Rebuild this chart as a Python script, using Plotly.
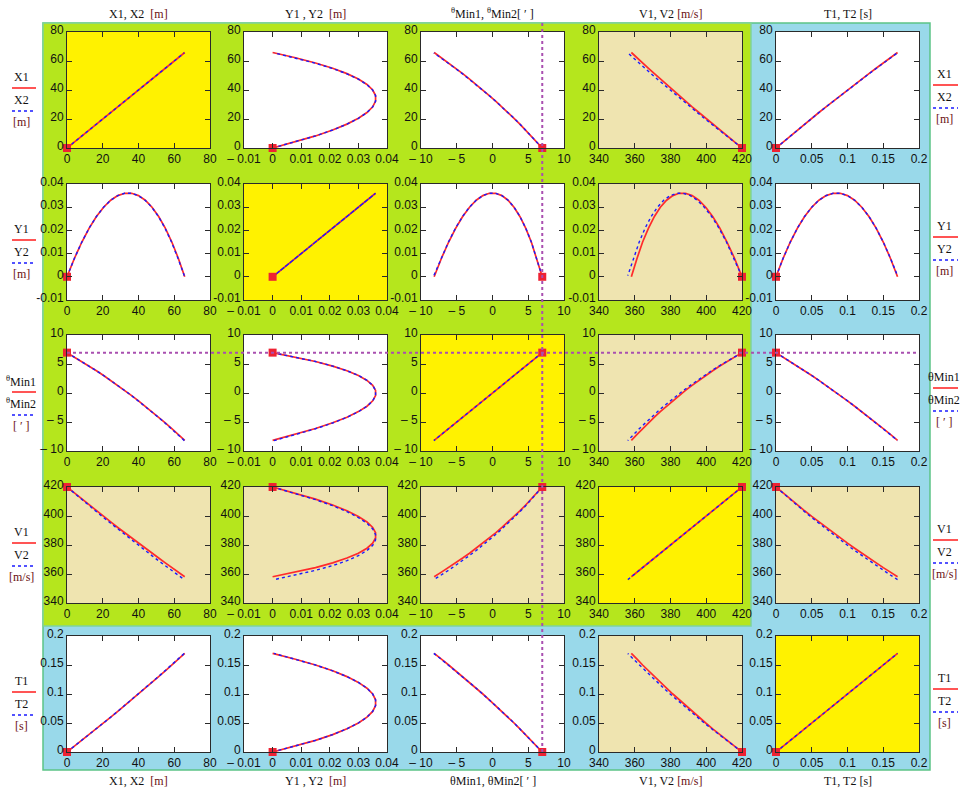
import plotly.graph_objects as go

# ---------------- data: two computed trajectories (1 = red, 2 = blue) ----------------
T1 = [0.00, 0.01, 0.02, 0.03, 0.04, 0.05, 0.06, 0.07, 0.08,
      0.09, 0.10, 0.11, 0.12, 0.13, 0.14, 0.15, 0.16, 0.17]
X1 = [0.00, 4.18, 8.32, 12.41, 16.47, 20.48, 24.46, 28.40, 32.30,
      36.17, 40.00, 43.80, 47.56, 51.28, 54.98, 58.64, 62.26, 65.86]
Y1 = [0.0000, 0.0080, 0.0150, 0.0210, 0.0260, 0.0300, 0.0330, 0.0350, 0.0360,
      0.0360, 0.0350, 0.0330, 0.0300, 0.0260, 0.0210, 0.0150, 0.0080, 0.0000]
TH1 = [6.96, 6.20, 5.43, 4.64, 3.83, 3.01, 2.17, 1.32, 0.44,
       -0.45, -1.35, -2.28, -3.21, -4.17, -5.14, -6.13, -7.14, -8.16]
V1 = [420.0, 415.8, 411.6, 407.6, 403.6, 399.7, 395.9, 392.1, 388.4,
      384.8, 381.3, 377.8, 374.3, 371.0, 367.7, 364.4, 361.3, 358.1]

T2 = [0.00, 0.01, 0.02, 0.03, 0.04, 0.05, 0.06, 0.07, 0.08,
      0.09, 0.10, 0.11, 0.12, 0.13, 0.14, 0.15, 0.16, 0.17]
X2 = [0.00, 4.18, 8.31, 12.40, 16.45, 20.46, 24.43, 28.36, 32.25,
      36.10, 39.92, 43.70, 47.44, 51.15, 54.82, 58.46, 62.07, 65.64]
Y2 = [0.0000, 0.0080, 0.0150, 0.0210, 0.0260, 0.0300, 0.0330, 0.0350, 0.0360,
      0.0360, 0.0350, 0.0330, 0.0300, 0.0260, 0.0210, 0.0150, 0.0080, 0.0005]
TH2 = [6.96, 6.20, 5.43, 4.64, 3.84, 3.02, 2.18, 1.32, 0.44,
       -0.45, -1.36, -2.28, -3.23, -4.19, -5.17, -6.16, -7.18, -8.21]
V2 = [420.0, 415.6, 411.3, 407.1, 403.0, 398.9, 395.0, 391.1, 387.2,
      383.5, 379.8, 376.2, 372.7, 369.2, 365.8, 362.5, 359.3, 356.1]

SERIES1 = [X1, Y1, TH1, V1, T1]
SERIES2 = [X2, Y2, TH2, V2, T2]

# axis scales for each quantity
AXIS_RANGE = [[0, 80], [-0.01, 0.04], [-10, 10], [340, 420], [0, 0.2]]
TICK_VALS = [[0, 20, 40, 60, 80],
             [-0.01, 0, 0.01, 0.02, 0.03, 0.04],
             [-10, -5, 0, 5, 10],
             [340, 360, 380, 400, 420],
             [0, 0.05, 0.1, 0.15, 0.2]]
X_TICK_TEXT = [["0", "20", "40", "60", "80"],
               ["\u2013 0.01", "0", "0.01", "0.02", "0.03", "0.04"],
               ["\u2013 10", "\u2013 5", "0", "5", "10"],
               ["340", "360", "380", "400", "420"],
               ["0", "0.05", "0.1", "0.15", "0.2"]]
Y_TICK_TEXT = [["0", "20", "40", "60", "80"],
               ["-0.01", "0", "0.01", "0.02", "0.03", "0.04"],
               ["\u2013 10", "\u2013 5", "0", "5", "10"],
               ["340", "360", "380", "400", "420"],
               ["0", "0.05", "0.1", "0.15", "0.2"]]

UNIT = "#6b1010"
TOP_TITLES = [
    "X1, X2  <span style='color:%s'>[m]</span>" % UNIT,
    "Y1 , Y2  <span style='color:%s'>[m]</span>" % UNIT,
    "<sup>θ</sup>Min1, <sup>θ</sup>Min2[ ′ ]",
    "V1, V2 <span style='color:%s'>[m/s]</span>" % UNIT,
    "T1, T2 [s]",
]
BOTTOM_TITLES = [
    "X1, X2  <span style='color:%s'>[m]</span>" % UNIT,
    "Y1 , Y2  <span style='color:%s'>[m]</span>" % UNIT,
    "θMin1, θMin2[ ′ ]",
    "V1, V2 <span style='color:%s'>[m/s]</span>" % UNIT,
    "T1, T2 [s]",
]
LEFT_NAMES1 = ["X1", "Y1", "<sup>θ</sup>Min1", "V1", "T1"]
LEFT_NAMES2 = ["X2", "Y2", "<sup>θ</sup>Min2", "V2", "T2"]
RIGHT_NAMES1 = ["X1", "Y1", "θMin1", "V1", "T1"]
RIGHT_NAMES2 = ["X2", "Y2", "θMin2", "V2", "T2"]
UNITS = ["[m]", "[m]", "[ ′ ]", "[m/s]", "[s]"]

# ---------------- page geometry (pixels) ----------------
W, H = 966, 790
COL_LEFT = [67, 244, 421, 599, 776]
ROW_TOP = [32, 184, 335, 487, 636]
BOX_W, BOX_H = 143, 116

GREEN = "#b5e61d"
BLUE = "#99d9ea"
TAN = "#efe4b0"
YELLOW = "#fff200"
WHITE = "#ffffff"
RED = "#ff2a2a"
DOTBLUE = "#1a1aff"
CURSOR = "#a94fb0"


def px(x):
    return x / W


def py(y):
    return 1 - y / H


fig = go.Figure()
shapes = []
annotations = []

# coloured panels behind the matrix
shapes.append(dict(type="rect", xref="paper", yref="paper", layer="below",
                   x0=px(43), x1=px(930), y0=py(770), y1=py(23),
                   fillcolor=BLUE, line=dict(color="#5cc487", width=1.5)))
shapes.append(dict(type="rect", xref="paper", yref="paper", layer="below",
                   x0=px(43), x1=px(751), y0=py(626), y1=py(23),
                   fillcolor=GREEN, line=dict(color="#7fd49a", width=1.5)))

layout_axes = {}
for r in range(5):
    for c in range(5):
        n = r * 5 + c + 1
        xa = "xaxis" if n == 1 else "xaxis%d" % n
        ya = "yaxis" if n == 1 else "yaxis%d" % n
        xr = "x" if n == 1 else "x%d" % n
        yr = "y" if n == 1 else "y%d" % n
        x0, x1 = COL_LEFT[c], COL_LEFT[c] + BOX_W
        y0, y1 = ROW_TOP[r], ROW_TOP[r] + BOX_H

        if r == c:
            bg = YELLOW
        elif r == 3 or c == 3:
            bg = TAN
        else:
            bg = WHITE
        shapes.append(dict(type="rect", xref="paper", yref="paper", layer="below",
                           x0=px(x0), x1=px(x1), y0=py(y1), y1=py(y0),
                           fillcolor=bg, line=dict(width=0)))

        common = dict(showgrid=False, zeroline=False, showline=True, mirror="ticks",
                      linecolor="#2a2a2a", linewidth=1, ticks="inside", ticklen=5,
                      tickcolor="#2a2a2a", tickwidth=1, fixedrange=True, automargin=False,
                      tickfont=dict(family="Liberation Sans", size=12, color="#111111"))
        xlo, xhi = AXIS_RANGE[c]
        ylo, yhi = AXIS_RANGE[r]
        ex = (xhi - xlo) * 1e-6
        ey = (yhi - ylo) * 1e-6
        layout_axes[xa] = dict(common, domain=[px(x0), px(x1)], anchor=yr,
                               range=[xlo - ex, xhi + ex], tickmode="array",
                               tickvals=TICK_VALS[c], ticktext=X_TICK_TEXT[c])
        layout_axes[ya] = dict(common, domain=[py(y1), py(y0)], anchor=xr,
                               range=[ylo - ey, yhi + ey], tickmode="array",
                               tickvals=TICK_VALS[r], ticktext=Y_TICK_TEXT[r],
                               ticklabelshift=-2)

        fig.add_trace(go.Scatter(x=SERIES1[c], y=SERIES1[r], mode="lines",
                                 line=dict(color=RED, width=1.7), xaxis=xr, yaxis=yr,
                                 showlegend=False, hoverinfo="skip"))
        fig.add_trace(go.Scatter(x=SERIES2[c], y=SERIES2[r], mode="lines",
                                 line=dict(color=DOTBLUE, width=1.4, dash="dot"),
                                 xaxis=xr, yaxis=yr, showlegend=False, hoverinfo="skip"))
        fig.add_trace(go.Scatter(x=[SERIES1[c][0]], y=[SERIES1[r][0]], mode="markers",
                                 marker=dict(symbol="square", size=8, color="#ee2233"),
                                 xaxis=xr, yaxis=yr, cliponaxis=False,
                                 showlegend=False, hoverinfo="skip"))

# cursor lines through the launch angle
shapes.append(dict(type="line", xref="x3", yref="paper", layer="above",
                   x0=TH1[0], x1=TH1[0], y0=py(ROW_TOP[4] + BOX_H), y1=py(23),
                   line=dict(color=CURSOR, width=2, dash="dot")))
shapes.append(dict(type="line", xref="paper", yref="y11", layer="above",
                   x0=px(COL_LEFT[0]), x1=px(COL_LEFT[4] + BOX_W), y0=TH1[0], y1=TH1[0],
                   line=dict(color=CURSOR, width=2, dash="dot")))

TXT = dict(family="Liberation Serif", size=12, color="#111111")

# column titles above and below the matrix
for c in range(5):
    cx = px(COL_LEFT[c] + BOX_W / 2)
    annotations.append(dict(x=cx, y=py(14), xref="paper", yref="paper", text=TOP_TITLES[c],
                            showarrow=False, xanchor="center", yanchor="middle", font=TXT))
    annotations.append(dict(x=cx, y=py(781), xref="paper", yref="paper", text=BOTTOM_TITLES[c],
                            showarrow=False, xanchor="center", yanchor="middle", font=TXT))

# row labels with line-style keys, left and right
for r in range(5):
    cy = ROW_TOP[r] + BOX_H / 2
    for side, lx, l0, l1, n1, n2, dy in (
        ("L", 21, 12, 36, LEFT_NAMES1[r], LEFT_NAMES2[r], 0),
        ("R", 944, 933, 958, RIGHT_NAMES1[r], RIGHT_NAMES2[r], -3),
    ):
        top = cy - 13 + dy
        if r == 2 and side == "L":
            top += 1
        annotations.append(dict(x=px(lx), y=py(top), xref="paper", yref="paper", text=n1,
                                showarrow=False, xanchor="center", yanchor="middle", font=TXT))
        annotations.append(dict(x=px(lx), y=py(top + 23), xref="paper", yref="paper", text=n2,
                                showarrow=False, xanchor="center", yanchor="middle", font=TXT))
        annotations.append(dict(x=px(lx), y=py(top + 45), xref="paper", yref="paper",
                                text=UNITS[r], showarrow=False, xanchor="center",
                                yanchor="middle",
                                font=dict(family="Liberation Serif", size=12, color=UNIT)))
        shapes.append(dict(type="line", xref="paper", yref="paper",
                           x0=px(l0), x1=px(l1), y0=py(top + 11), y1=py(top + 11),
                           line=dict(color=RED, width=1.6)))
        shapes.append(dict(type="line", xref="paper", yref="paper",
                           x0=px(l0), x1=px(l1), y0=py(top + 34), y1=py(top + 34),
                           line=dict(color=DOTBLUE, width=1.4, dash="dot")))

fig.update_layout(
    width=W, height=H, autosize=False,
    margin=dict(l=0, r=0, t=0, b=0, pad=0),
    paper_bgcolor="white", plot_bgcolor="rgba(0,0,0,0)",
    showlegend=False, shapes=shapes, annotations=annotations,
    **layout_axes,
)

fig.write_html("out.html", config={"displayModeBar": False})
